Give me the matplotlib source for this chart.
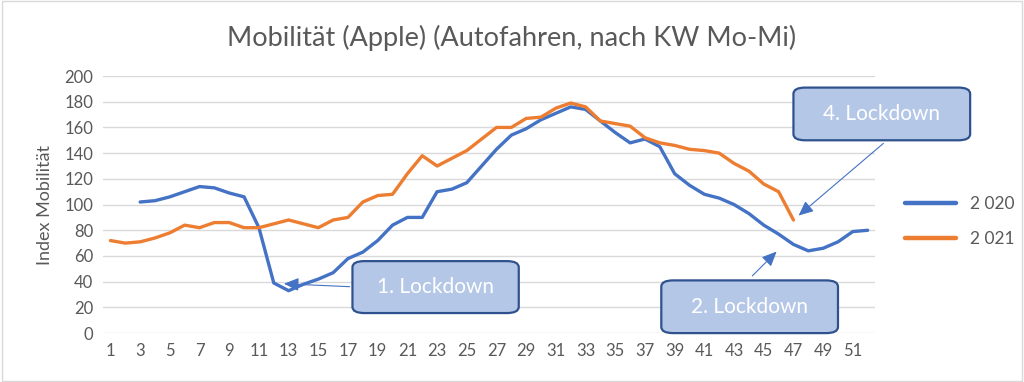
import numpy as np
import matplotlib.pyplot as plt
from matplotlib.patches import FancyBboxPatch, Rectangle

plt.rcParams['font.family'] = ['Lato', 'DejaVu Sans']

# Kalenderwochen
weeks_2020 = list(range(3, 53))
weeks_2021 = list(range(1, 48))

# Index Mobilität (Apple, Autofahren)
mob_2020 = [102, 103, 106, 110, 114, 113, 109, 106, 82, 39,
            33, 38, 42, 47, 58, 63, 72, 84, 90, 90,
            110, 112, 117, 130, 143, 154, 159, 166, 171, 176,
            174, 165, 156, 148, 151, 145, 124, 115, 108, 105,
            100, 93, 84, 77, 69, 64, 66, 71, 79, 80]
mob_2021 = [72, 70, 71, 74, 78, 84, 82, 86, 86, 82,
            82, 85, 88, 85, 82, 88, 90, 102, 107, 108,
            124, 138, 130, 136, 142, 151, 160, 160, 167, 168,
            175, 179, 176, 165, 163, 161, 152, 148, 146, 143,
            142, 140, 132, 126, 116, 110, 88]

xticks = list(range(1, 52, 2))
yticks = list(range(0, 201, 20))

fig = plt.figure(figsize=(10.24, 3.82), dpi=100)
fig.patches.append(Rectangle((0.002, 0.003), 0.996, 0.994, transform=fig.transFigure,
                             fill=False, edgecolor='#D9D9D9', linewidth=1))
ax = fig.add_axes([0.1006, 0.128, 0.754, 0.673])

ax.plot(weeks_2020, mob_2020, color='#4472C4', lw=2.4, label='2 020', solid_capstyle='round')
ax.plot(weeks_2021, mob_2021, color='#ED7D31', lw=2.4, label='2 021', solid_capstyle='round')

ax.set_xlim(0.5, 52.5)
ax.set_ylim(0, 200)
ax.set_xticks(xticks)
ax.set_yticks(yticks)
ax.tick_params(length=0, labelsize=12, labelcolor='#595959', pad=7)
ax.grid(axis='y', color='#D9D9D9', lw=1)
for s in ax.spines.values():
    s.set_visible(False)
ax.set_ylabel('Index Mobilität', fontsize=13, color='#595959', labelpad=8)
fig.suptitle('Mobilität (Apple) (Autofahren, nach KW Mo-Mi)', fontsize=19.5,
             color='#595959', y=0.935)

leg = ax.legend(loc='center left', bbox_to_anchor=(0.869, 0.42), bbox_transform=fig.transFigure,
                frameon=False, fontsize=12.5, labelcolor='#595959', handlelength=2.9,
                labelspacing=1.1)
for line in leg.get_lines():
    line.set_linewidth(3.2)

# Annotationen
boxes = [
    ('1. Lockdown', 17.3, 28.5, 15.6, 56, (17.3, 36), (12.5, 38.5)),
    ('2. Lockdown', 38.1, 50.0, 0, 41, (44.1, 43), (46.0, 65)),
    ('4. Lockdown', 47.0, 58.9, 150, 191, (53.2, 149), (47.2, 90)),
]
for text, x0, x1, y0, y1, start, tip in boxes:
    ax.annotate('', xy=tip, xytext=start,
                arrowprops=dict(arrowstyle='-|>,head_length=0.9,head_width=0.4',
                                color='#4472C4', lw=0.8), annotation_clip=False)
    box = FancyBboxPatch((x0, y0), x1 - x0, y1 - y0,
                         boxstyle='round,pad=0,rounding_size=0.8',
                         mutation_aspect=6,
                         facecolor='#B4C7E7', edgecolor='#2F528F', lw=1.6,
                         clip_on=False, zorder=5)
    ax.add_patch(box)
    ax.text((x0 + x1) / 2, (y0 + y1) / 2, text, ha='center', va='center',
            color='white', fontsize=15, zorder=6)

fig.savefig('out.png', dpi=100)
